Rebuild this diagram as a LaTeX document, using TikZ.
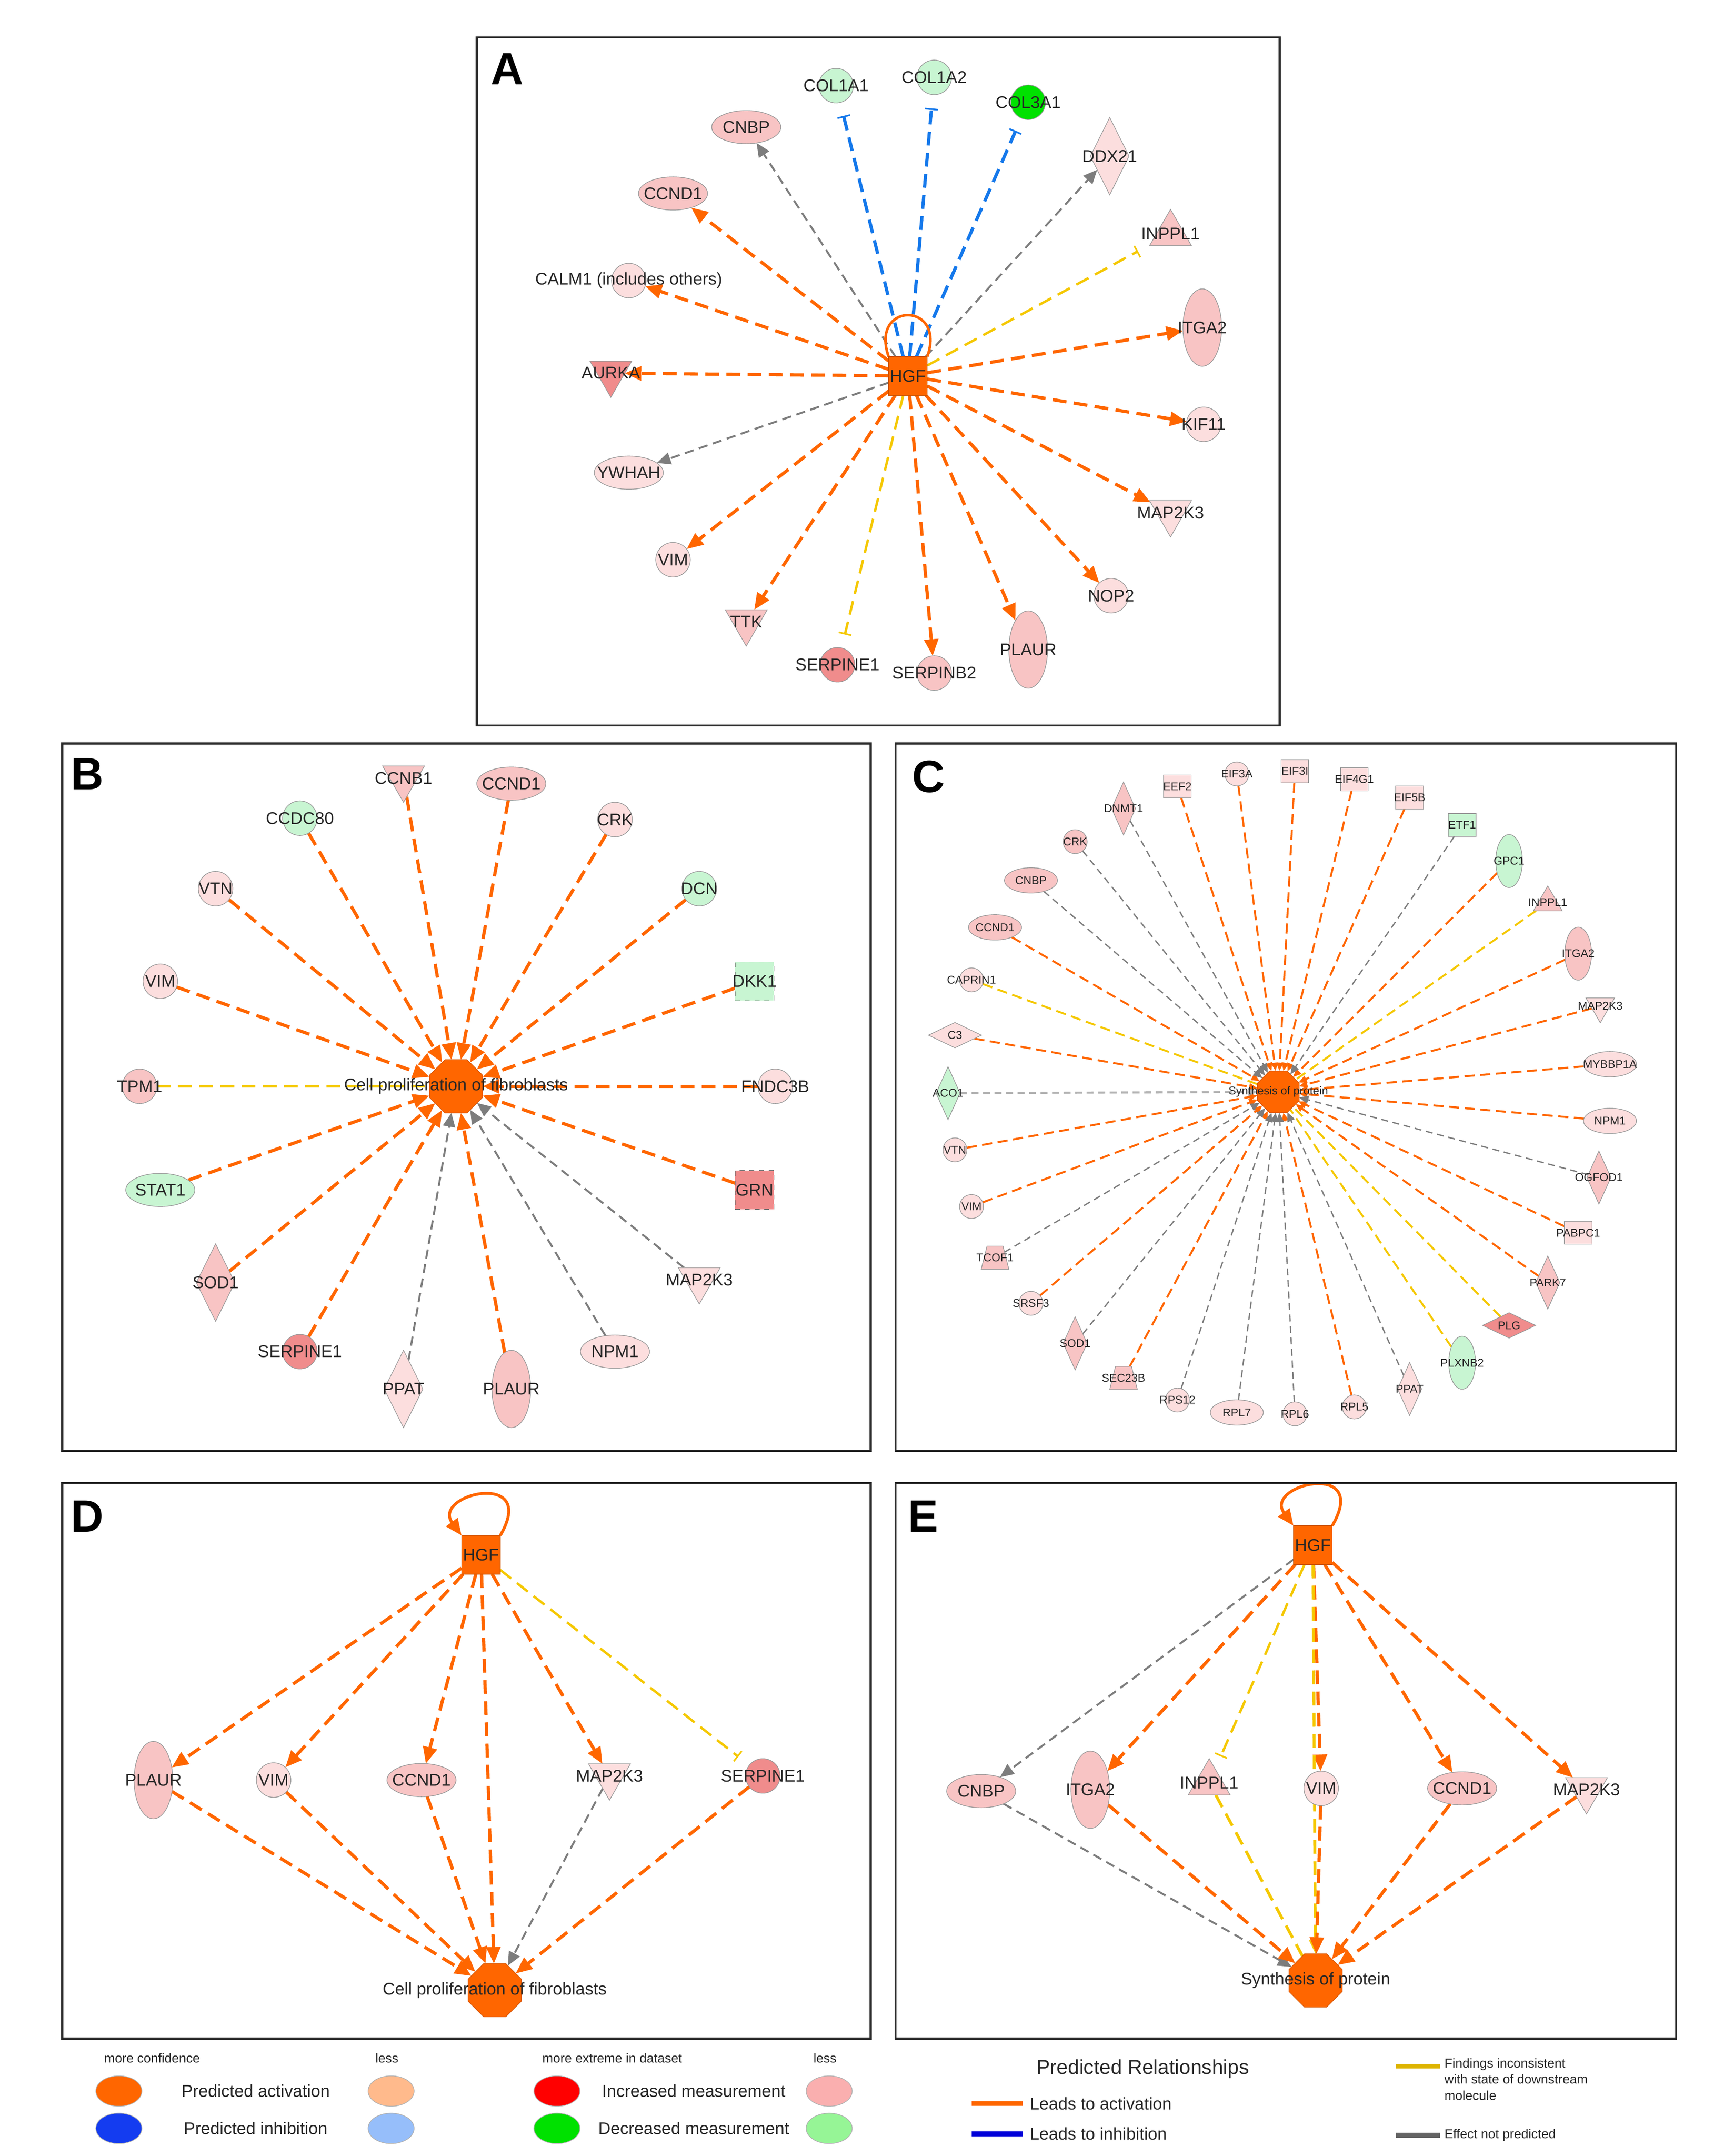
\documentclass[tikz,border=0pt]{standalone}
\usepackage{fontspec}
\setmainfont{Liberation Sans}
\usetikzlibrary{shapes.geometric,arrows.meta,calc}
\definecolor{orx}{RGB}{255,102,0}
\definecolor{blx}{RGB}{20,120,235}
\definecolor{yex}{RGB}{245,200,0}
\definecolor{gyx}{RGB}{125,125,125}
\definecolor{pka}{RGB}{252,222,222}
\definecolor{pkb}{RGB}{248,196,196}
\definecolor{pkc}{RGB}{240,140,140}
\definecolor{gra}{RGB}{200,245,210}
\definecolor{grb}{RGB}{0,225,0}
\pgfdeclarelayer{bg}\pgfsetlayers{bg,main}
\newcommand\nd[5]{\node[#1] (#2) at (#3) {}; \node[#4] (#2t) at (#2) {#5};}
\tikzset{
 sh/.style={draw=black!40,line width=0.4pt,inner sep=0pt,outer sep=0pt},
 ell/.style={sh,ellipse,minimum width=1.5cm,minimum height=0.72cm},
 cir/.style={sh,circle,minimum size=0.75cm},
 tell/.style={sh,ellipse,minimum width=0.84cm,minimum height=1.68cm},
 dia/.style={sh,diamond,aspect=0.5,minimum width=0.84cm,minimum height=1.68cm},
 tri/.style={sh,regular polygon,regular polygon sides=3,minimum size=1.05cm},
 itri/.style={tri,shape border rotate=180},
 sqr/.style={sh,rectangle,minimum size=0.84cm},
 dsq/.style={sh,rectangle,dashed,draw=black!55,minimum size=0.84cm},
 oct/.style={sh,regular polygon,regular polygon sides=8,minimum size=1.25cm,fill=orx,draw=orx!85!black},
 cell/.style={sh,ellipse,minimum width=1.15cm,minimum height=0.55cm},
 ccir/.style={sh,circle,minimum size=0.52cm},
 ctell/.style={sh,ellipse,minimum width=0.58cm,minimum height=1.15cm},
 cdia/.style={sh,diamond,aspect=0.45,minimum width=0.52cm,minimum height=1.15cm},
 cwdia/.style={sh,diamond,aspect=2,minimum width=1.15cm,minimum height=0.55cm},
 ctri/.style={sh,regular polygon,regular polygon sides=3,minimum size=0.72cm},
 citri/.style={ctri,shape border rotate=180},
 crect/.style={sh,rectangle,minimum width=0.6cm,minimum height=0.5cm},
 ctrap/.style={sh,trapezium,inner sep=1pt,trapezium stretches=true,trapezium left angle=70,trapezium right angle=70,minimum width=0.6cm,minimum height=0.5cm},
 coct/.style={oct,minimum size=0.98cm},
 lbl/.style={inner sep=0pt,font=\fontsize{10.5}{12}\selectfont,text=black!85},
 clbl/.style={inner sep=0pt,font=\fontsize{7}{8}\selectfont,text=black!85},
 letter/.style={inner sep=0pt,font=\fontsize{28}{30}\selectfont\bfseries},
 box/.style={draw=black!85,line width=1.2pt},
 act/.style={draw=orx,line width=2pt,dash pattern=on 0.3cm off 0.16cm,-{Triangle[length=0.36cm,width=0.3cm]}},
 gry/.style={draw=gyx,line width=1.2pt,dash pattern=on 0.2cm off 0.12cm,-{Triangle[length=0.3cm,width=0.26cm]}},
 binh/.style={draw=blx,line width=2pt,dash pattern=on 0.3cm off 0.16cm,-{Bar[width=0.28cm,line width=1pt]},shorten >=0.3cm},
 yinh/.style={draw=yex,line width=1.5pt,dash pattern=on 0.3cm off 0.16cm,-{Bar[width=0.28cm,line width=1pt]},shorten >=0.3cm},
 yln/.style={draw=yex,line width=1.8pt,dash pattern=on 0.3cm off 0.16cm},
 cact/.style={draw=orx,line width=1.2pt,dash pattern=on 0.22cm off 0.12cm,-{Triangle[length=0.18cm,width=0.15cm]}},
 cgry/.style={draw=gyx,line width=0.8pt,dash pattern=on 0.15cm off 0.1cm,-{Triangle[length=0.2cm,width=0.17cm]}},
 cyel/.style={draw=yex,line width=1.2pt,dash pattern=on 0.22cm off 0.12cm},
 leg/.style={inner sep=0pt,font=\fontsize{10.5}{12}\selectfont,text=black!85},
 legs/.style={inner sep=0pt,font=\fontsize{8}{10}\selectfont,text=black!85,align=left},
 lov/.style={ellipse,draw=black!30,line width=0.4pt,minimum width=1.0cm,minimum height=0.66cm,inner sep=0pt},
}
\begin{document}
\begin{tikzpicture}[x=0.03cm,y=-0.03cm]
\begin{pgfonlayer}{bg}
\fill[white] (0,0) rectangle (1240,1560);
\end{pgfonlayer}
\useasboundingbox (0,0) rectangle (1240,1560);
% ===== boxes
\draw[box] (345,27) rectangle (926,525);
\draw[box] (45,538) rectangle (630,1050);
\draw[box] (648,538) rectangle (1213,1050);
\draw[box] (45,1073) rectangle (630,1475);
\draw[box] (648,1073) rectangle (1213,1475);
\node[letter] (LA) at (367,50) {A};
\node[letter] (LB) at (63,560) {B};
\node[letter] (LC) at (672,562) {C};
\node[letter] (LD) at (63,1097) {D};
\node[letter] (LE) at (668,1097) {E};
% ===== Panel A
\nd{sqr,fill=orx,draw=orx!80!black}{ahgf}{657,272}{lbl}{HGF}
\nd{cir,fill=gra}{acol1}{605,62}{lbl}{COL1A1}
\nd{cir,fill=gra}{acol2}{676,56}{lbl}{COL1A2}
\nd{cir,fill=grb}{acol3}{744,74}{lbl}{COL3A1}
\nd{ell,fill=pkb}{acnbp}{540,92}{lbl}{CNBP}
\nd{dia,fill=pka}{addx}{803,113}{lbl}{DDX21}
\nd{ell,fill=pkb}{accnd1}{487,140}{lbl}{CCND1}
\nd{tri,fill=pkb}{ainppl}{847,169}{lbl}{INPPL1}
\nd{cir,fill=pka}{acalm}{455,203}{lbl}{CALM1 (includes others)}
\nd{tell,fill=pkb}{aitga2}{870,237}{lbl}{ITGA2}
\nd{itri,fill=pkc}{aaurka}{442,270}{lbl}{AURKA}
\nd{cir,fill=pka}{akif}{871,307}{lbl}{KIF11}
\nd{ell,fill=pka}{aywhah}{455,342}{lbl}{YWHAH}
\nd{itri,fill=pka}{amap}{847,371}{lbl}{MAP2K3}
\nd{cir,fill=pka}{avim}{487,405}{lbl}{VIM}
\nd{cir,fill=pka}{anop}{804,431}{lbl}{NOP2}
\nd{itri,fill=pkb}{attk}{540,450}{lbl}{TTK}
\nd{tell,fill=pkb}{aplaur}{744,470}{lbl}{PLAUR}
\nd{cir,fill=pkc}{aserpe}{606,481}{lbl}{SERPINE1}
\nd{cir,fill=pkb}{aserpb}{676,487}{lbl}{SERPINB2}
\begin{pgfonlayer}{bg}
\foreach \n in {accnd1,acalm,aaurka,aitga2,akif,amap,avim,anop,attk,aplaur,aserpb} \draw[act] (ahgf) -- (\n);
\foreach \n in {acnbp,addx,aywhah} \draw[gry] (ahgf) -- (\n);
\foreach \n in {acol1,acol2,acol3} \draw[binh] (ahgf) -- (\n);
\foreach \n in {ainppl,aserpe} \draw[yinh] (ahgf) -- (\n);
\draw[orx,line width=1.6pt] (ahgf.north west) .. controls +(-14,-40) and +(14,-40) .. (ahgf.north east);
\end{pgfonlayer}
% ===== Panel B
\nd{oct}{bhub}{330,786}{lbl}{Cell proliferation of fibroblasts}
\nd{itri,fill=pkb}{bccnb}{292,563}{lbl}{CCNB1}
\nd{ell,fill=pkb}{bccnd}{370,567}{lbl}{CCND1}
\nd{cir,fill=gra}{bccdc}{217,592}{lbl}{CCDC80}
\nd{cir,fill=pka}{bcrk}{445,593}{lbl}{CRK}
\nd{cir,fill=pka}{bvtn}{156,643}{lbl}{VTN}
\nd{cir,fill=gra}{bdcn}{506,643}{lbl}{DCN}
\nd{cir,fill=pka}{bvim}{116,710}{lbl}{VIM}
\nd{dsq,fill=gra}{bdkk}{546,710}{lbl}{DKK1}
\nd{cir,fill=pkb}{btpm}{101,786}{lbl}{TPM1}
\nd{cir,fill=pka}{bfndc}{561,786}{lbl}{FNDC3B}
\nd{ell,fill=gra}{bstat}{116,861}{lbl}{STAT1}
\nd{dsq,fill=pkc}{bgrn}{546,861}{lbl}{GRN}
\nd{dia,fill=pkb}{bsod}{156,928}{lbl}{SOD1}
\nd{itri,fill=pka}{bmap}{506,926}{lbl}{MAP2K3}
\nd{cir,fill=pkc}{bserp}{217,978}{lbl}{SERPINE1}
\nd{ell,fill=pka}{bnpm}{445,978}{lbl}{NPM1}
\nd{dia,fill=pka}{bppat}{292,1005}{lbl}{PPAT}
\nd{tell,fill=pkb}{bplaur}{370,1005}{lbl}{PLAUR}
\begin{pgfonlayer}{bg}
\foreach \n in {bccnb,bccnd,bccdc,bcrk,bvtn,bdcn,bvim,bdkk,bfndc,bstat,bgrn,bsod,bserp,bplaur} \draw[act] (\n) -- (bhub);
\foreach \n in {bppat,bnpm,bmap} \draw[gry] (\n) -- (bhub);
\draw[yln] (btpm) -- (bhub);
\end{pgfonlayer}
% ===== Panel C
\nd{coct}{chub}{925,790}{clbl}{Synthesis of protein}
\nd{cdia,fill=pkb}{cdnmt}{813,585}{clbl}{DNMT1}
\nd{crect,fill=pka}{ceef}{852,569}{clbl}{EEF2}
\nd{ccir,fill=pka}{ceif3a}{895,560}{clbl}{EIF3A}
\nd{crect,fill=pka}{ceif3i}{937,558}{clbl}{EIF3I}
\nd{crect,fill=pka}{ceif4}{980,564}{clbl}{EIF4G1}
\nd{crect,fill=pka}{ceif5}{1020,577}{clbl}{EIF5B}
\nd{crect,fill=gra}{cetf}{1058,597}{clbl}{ETF1}
\nd{ctell,fill=gra}{cgpc}{1092,623}{clbl}{GPC1}
\nd{ctri,fill=pkb}{cinppl}{1120,653}{clbl}{INPPL1}
\nd{ctell,fill=pkb}{citga}{1142,690}{clbl}{ITGA2}
\nd{citri,fill=pka}{cmap}{1158,728}{clbl}{MAP2K3}
\nd{cell,fill=pka}{cmyb}{1165,770}{clbl}{MYBBP1A}
\nd{cell,fill=pka}{cnpm}{1165,811}{clbl}{NPM1}
\nd{cdia,fill=pkb}{cogf}{1157,852}{clbl}{OGFOD1}
\nd{crect,fill=pka}{cpab}{1142,892}{clbl}{PABPC1}
\nd{cdia,fill=pkb}{cpark}{1120,928}{clbl}{PARK7}
\nd{cwdia,fill=pkc}{cplg}{1092,959}{clbl}{PLG}
\nd{ctell,fill=gra}{cplx}{1058,986}{clbl}{PLXNB2}
\nd{cdia,fill=pka}{cppat}{1020,1005}{clbl}{PPAT}
\nd{ccir,fill=pka}{crpl5}{980,1018}{clbl}{RPL5}
\nd{ccir,fill=pka}{crpl6}{937,1023}{clbl}{RPL6}
\nd{cell,fill=pka}{crpl7}{895,1022}{clbl}{RPL7}
\nd{ccir,fill=pka}{crps}{852,1013}{clbl}{RPS12}
\nd{ctrap,fill=pkb}{csec}{813,997}{clbl}{SEC23B}
\nd{cdia,fill=pkb}{csod}{778,972}{clbl}{SOD1}
\nd{ccir,fill=pka}{csrsf}{746,943}{clbl}{SRSF3}
\nd{ctrap,fill=pkb}{ctcof}{720,910}{clbl}{TCOF1}
\nd{ccir,fill=pka}{cvim}{703,873}{clbl}{VIM}
\nd{ccir,fill=pka}{cvtn}{691,832}{clbl}{VTN}
\nd{cdia,fill=gra}{caco}{686,791}{clbl}{ACO1}
\nd{cwdia,fill=pka}{cc3}{691,749}{clbl}{C3}
\nd{ccir,fill=pka}{ccap}{703,709}{clbl}{CAPRIN1}
\nd{cell,fill=pkb}{cccnd}{720,671}{clbl}{CCND1}
\nd{cell,fill=pkb}{ccnbp}{746,637}{clbl}{CNBP}
\nd{ccir,fill=pkb}{ccrk}{778,609}{clbl}{CRK}
\begin{pgfonlayer}{bg}
\foreach \n in {ceef,ceif3a,ceif3i,ceif4,ceif5,cgpc,citga,cmap,cmyb,cnpm,cpab,cpark,crpl5,csec,csrsf,cvim,cvtn,cc3,cccnd} \draw[cact] (\n) -- (chub);
\foreach \n in {cdnmt,cetf,cogf,cppat,crpl6,crpl7,crps,csod,ctcof,ccnbp,ccrk} \draw[cgry] (\n) -- (chub);
\draw[cgry,draw=black!30,line width=1.3pt] (caco) -- (chub);
\foreach \n in {cinppl,cplg,cplx,ccap} \draw[cyel] (\n) -- (chub);
\end{pgfonlayer}
% ===== Panel D
\nd{sqr,fill=orx,draw=orx!80!black}{dhgf}{348,1125}{lbl}{HGF}
\nd{tell,fill=pkb}{dplaur}{111,1288}{lbl}{PLAUR}
\nd{cir,fill=pka}{dvim}{198,1288}{lbl}{VIM}
\nd{ell,fill=pkb}{dccnd}{305,1288}{lbl}{CCND1}
\nd{itri,fill=pka}{dmap}{441,1285}{lbl}{MAP2K3}
\nd{cir,fill=pkc}{dserp}{552,1285}{lbl}{SERPINE1}
\nd{oct}{dhub}{358,1440}{lbl}{Cell proliferation of fibroblasts}
\begin{pgfonlayer}{bg}
\foreach \n in {dplaur,dvim,dccnd,dmap,dhub} \draw[act] (dhgf) -- (\n);
\draw[yinh] (dhgf) -- (dserp);
\foreach \n in {dplaur,dvim,dccnd,dserp} \draw[act] (\n) -- (dhub);
\draw[gry] (dmap) -- (dhub);
\draw[orx,line width=1.8pt,-{Triangle[length=0.36cm,width=0.3cm]}] (dhgf.north east) .. controls +(28,-48) and +(-22,-30) .. (dhgf.north west);
\end{pgfonlayer}
% ===== Panel E
\nd{sqr,fill=orx,draw=orx!80!black}{ehgf}{950,1118}{lbl}{HGF}
\nd{ell,fill=pkb}{ecnbp}{710,1296}{lbl}{CNBP}
\nd{tell,fill=pkb}{eitga}{789,1295}{lbl}{ITGA2}
\nd{tri,fill=pkb}{einppl}{875,1290}{lbl}{INPPL1}
\nd{cir,fill=pka}{evim}{956,1294}{lbl}{VIM}
\nd{ell,fill=pkb}{eccnd}{1058,1294}{lbl}{CCND1}
\nd{itri,fill=pka}{emap}{1148,1295}{lbl}{MAP2K3}
\nd{oct}{ehub}{952,1433}{lbl}{Synthesis of protein}
\begin{pgfonlayer}{bg}
\draw[gry] (ehgf) -- (ecnbp);
\foreach \n in {eitga,evim,eccnd,emap} \draw[act] (ehgf) -- (\n);
\draw[yinh] (ehgf) -- (einppl);
\draw[yln,-{Triangle[length=0.3cm,width=0.26cm]}] (ehgf) -- (ehub);
\draw[yln] (einppl) -- (ehub);
\draw[gry] (ecnbp) -- (ehub);
\foreach \n in {eitga,evim,eccnd,emap} \draw[act] (\n) -- (ehub);
\draw[orx,line width=1.8pt,-{Triangle[length=0.36cm,width=0.3cm]}] (ehgf.north east) .. controls +(28,-48) and +(-22,-30) .. (ehgf.north west);
\end{pgfonlayer}
% ===== Legend
\node[legs] (g1) at (110,1489) {more confidence};
\node[legs] (g2) at (280,1489) {less};
\node[legs] (g3) at (443,1489) {more extreme in dataset};
\node[legs] (g4) at (597,1489) {less};
\node[lov,fill=orx] (o1) at (86,1513) {};
\node[leg] (t1) at (185,1513) {Predicted activation};
\node[lov,fill=orx!45] (o2) at (283,1513) {};
\node[lov,fill={rgb,255:red,20;green,60;blue,240}] (o3) at (86,1540) {};
\node[leg] (t2) at (185,1540) {Predicted inhibition};
\node[lov,fill={rgb,255:red,150;green,190;blue,250}] (o4) at (283,1540) {};
\node[lov,fill=red] (o5) at (403,1513) {};
\node[leg] (t3) at (502,1513) {Increased measurement};
\node[lov,fill={rgb,255:red,250;green,175;blue,175}] (o6) at (600,1513) {};
\node[lov,fill=grb] (o7) at (403,1540) {};
\node[leg] (t4) at (502,1540) {Decreased measurement};
\node[lov,fill={rgb,255:red,150;green,245;blue,150}] (o8) at (600,1540) {};
\node[leg,font=\fontsize{12.5}{14}\selectfont] (t5) at (827,1497) {Predicted Relationships};
\coordinate (l1a) at (703,1522); \coordinate (l1b) at (740,1522);
\draw[orx,line width=3pt] (l1a) -- (l1b);
\node[leg,anchor=west] (t6) at (745,1522) {Leads to activation};
\coordinate (l2a) at (703,1544); \coordinate (l2b) at (740,1544);
\draw[blue!85!black,line width=3pt] (l2a) -- (l2b);
\node[leg,anchor=west] (t7) at (745,1544) {Leads to inhibition};
\coordinate (l3a) at (1010,1495); \coordinate (l3b) at (1042,1495);
\draw[yex!90!black,line width=3pt] (l3a) -- (l3b);
\node[legs,anchor=north west] (t8) at (1045,1489) {Findings inconsistent\\with state of downstream\\molecule};
\coordinate (l4a) at (1010,1545); \coordinate (l4b) at (1042,1545);
\draw[gyx!80!black,line width=3pt] (l4a) -- (l4b);
\node[legs,anchor=west] (t9) at (1045,1545) {Effect not predicted};
\end{tikzpicture}
\end{document}
